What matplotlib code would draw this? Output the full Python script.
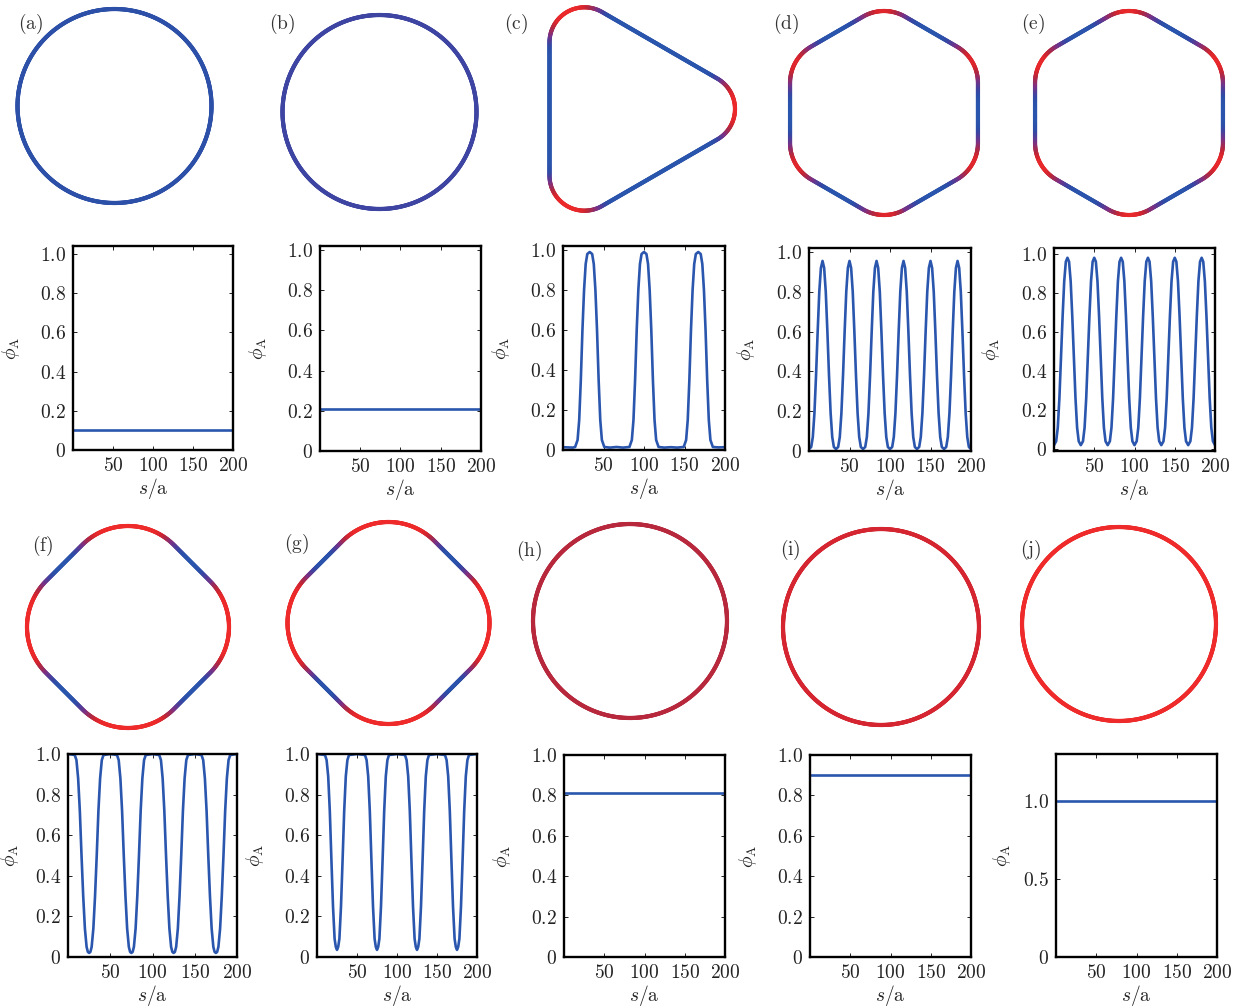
import numpy as np
import matplotlib
matplotlib.use("Agg")
import matplotlib.pyplot as plt
from matplotlib.collections import LineCollection
from matplotlib.colors import LinearSegmentedColormap

plt.rcParams['mathtext.fontset'] = 'cm'
plt.rcParams['font.family'] = 'serif'
plt.rcParams['font.serif'] = ['DejaVu Serif']

# ---------------------------------------------------------------------------
# phi_A along the contour length s/a for each panel
# ---------------------------------------------------------------------------
S_A = [0, 200]
PHI_A = [0.10, 0.10]

S_B = [0, 200]
PHI_B = [0.21, 0.21]

S_C = [0, 6, 12, 15, 18, 20, 22, 24, 26, 28, 30, 33, 36, 38, 40, 42, 44, 46, 48, 51,
       58, 66, 74,
       82, 85, 87, 89, 91, 93, 95, 97, 100, 103, 105, 107, 109, 111, 113, 115, 118,
       125, 133, 141,
       149, 152, 154, 156, 158, 160, 162, 164, 167, 170, 172, 174, 176, 178, 180, 182, 185,
       192, 200]
PHI_C = [0.014, 0.013, 0.012,
         0.015, 0.05, 0.15, 0.35, 0.60, 0.80, 0.93, 0.98, 0.99, 0.98, 0.93, 0.80, 0.60, 0.35, 0.15, 0.05, 0.015,
         0.012, 0.015, 0.012,
         0.015, 0.05, 0.15, 0.35, 0.60, 0.80, 0.93, 0.98, 0.99, 0.98, 0.93, 0.80, 0.60, 0.35, 0.15, 0.05, 0.015,
         0.012, 0.014, 0.012,
         0.015, 0.05, 0.15, 0.35, 0.60, 0.80, 0.93, 0.98, 0.99, 0.98, 0.93, 0.80, 0.60, 0.35, 0.15, 0.05, 0.015,
         0.013, 0.014]

S_D = [0.0, 2.7, 4.7, 6.7, 8.7, 10.7, 12.7, 14.7, 16.7, 18.7, 20.7, 22.7, 24.7, 26.7, 28.7, 30.7,
       33.3, 36.0, 38.0, 40.0, 42.0, 44.0, 46.0, 48.0, 50.0, 52.0, 54.0, 56.0, 58.0, 60.0, 62.0, 64.0,
       66.7, 69.4, 71.4, 73.4, 75.4, 77.4, 79.4, 81.4, 83.4, 85.4, 87.4, 89.4, 91.4, 93.4, 95.4, 97.4,
       100.0, 102.7, 104.7, 106.7, 108.7, 110.7, 112.7, 114.7, 116.7, 118.7, 120.7, 122.7, 124.7, 126.7, 128.7, 130.7,
       133.3, 136.0, 138.0, 140.0, 142.0, 144.0, 146.0, 148.0, 150.0, 152.0, 154.0, 156.0, 158.0, 160.0, 162.0, 164.0,
       166.7, 169.4, 171.4, 173.4, 175.4, 177.4, 179.4, 181.4, 183.4, 185.4, 187.4, 189.4, 191.4, 193.4, 195.4, 197.4,
       200.0]
PHI_D = [0.01, 0.02, 0.07, 0.19, 0.38, 0.60, 0.80, 0.92, 0.955, 0.92, 0.80, 0.60, 0.38, 0.19, 0.07, 0.02,
         0.01, 0.02, 0.07, 0.19, 0.38, 0.60, 0.80, 0.92, 0.955, 0.92, 0.80, 0.60, 0.38, 0.19, 0.07, 0.02,
         0.01, 0.02, 0.07, 0.19, 0.38, 0.60, 0.80, 0.92, 0.955, 0.92, 0.80, 0.60, 0.38, 0.19, 0.07, 0.02,
         0.01, 0.02, 0.07, 0.19, 0.38, 0.60, 0.80, 0.92, 0.955, 0.92, 0.80, 0.60, 0.38, 0.19, 0.07, 0.02,
         0.01, 0.02, 0.07, 0.19, 0.38, 0.60, 0.80, 0.92, 0.955, 0.92, 0.80, 0.60, 0.38, 0.19, 0.07, 0.02,
         0.01, 0.02, 0.07, 0.19, 0.38, 0.60, 0.80, 0.92, 0.955, 0.92, 0.80, 0.60, 0.38, 0.19, 0.07, 0.02,
         0.01]

S_E = list(S_D)
PHI_E = [0.02, 0.04, 0.11, 0.26, 0.47, 0.68, 0.86, 0.96, 0.98, 0.96, 0.86, 0.68, 0.47, 0.26, 0.11, 0.04,
         0.02, 0.04, 0.11, 0.26, 0.47, 0.68, 0.86, 0.96, 0.98, 0.96, 0.86, 0.68, 0.47, 0.26, 0.11, 0.04,
         0.02, 0.04, 0.11, 0.26, 0.47, 0.68, 0.86, 0.96, 0.98, 0.96, 0.86, 0.68, 0.47, 0.26, 0.11, 0.04,
         0.02, 0.04, 0.11, 0.26, 0.47, 0.68, 0.86, 0.96, 0.98, 0.96, 0.86, 0.68, 0.47, 0.26, 0.11, 0.04,
         0.02, 0.04, 0.11, 0.26, 0.47, 0.68, 0.86, 0.96, 0.98, 0.96, 0.86, 0.68, 0.47, 0.26, 0.11, 0.04,
         0.02, 0.04, 0.11, 0.26, 0.47, 0.68, 0.86, 0.96, 0.98, 0.96, 0.86, 0.68, 0.47, 0.26, 0.11, 0.04,
         0.02]

S_F = [0,
       8, 10, 12, 14, 16, 18, 20, 22, 23.5, 25, 26.5, 28, 30, 32, 34, 36, 38, 40, 42,
       50,
       58, 60, 62, 64, 66, 68, 70, 72, 73.5, 75, 76.5, 78, 80, 82, 84, 86, 88, 90, 92,
       100,
       108, 110, 112, 114, 116, 118, 120, 122, 123.5, 125, 126.5, 128, 130, 132, 134, 136, 138, 140, 142,
       150,
       158, 160, 162, 164, 166, 168, 170, 172, 173.5, 175, 176.5, 178, 180, 182, 184, 186, 188, 190, 192,
       200]
PHI_F = [1.0,
         0.995, 0.97, 0.88, 0.72, 0.50, 0.30, 0.14, 0.05, 0.025, 0.02, 0.025, 0.05, 0.14, 0.30, 0.50, 0.72, 0.88, 0.97, 0.995,
         1.0,
         0.995, 0.97, 0.88, 0.72, 0.50, 0.30, 0.14, 0.05, 0.025, 0.02, 0.025, 0.05, 0.14, 0.30, 0.50, 0.72, 0.88, 0.97, 0.995,
         1.0,
         0.995, 0.97, 0.88, 0.72, 0.50, 0.30, 0.14, 0.05, 0.025, 0.02, 0.025, 0.05, 0.14, 0.30, 0.50, 0.72, 0.88, 0.97, 0.995,
         1.0,
         0.995, 0.97, 0.88, 0.72, 0.50, 0.30, 0.14, 0.05, 0.025, 0.02, 0.025, 0.05, 0.14, 0.30, 0.50, 0.72, 0.88, 0.97, 0.995,
         1.0]

S_G = [0,
       10, 12, 14, 16, 18, 20, 22, 23.5, 25, 26.5, 28, 30, 32, 34, 36, 38, 40,
       50,
       60, 62, 64, 66, 68, 70, 72, 73.5, 75, 76.5, 78, 80, 82, 84, 86, 88, 90,
       100,
       110, 112, 114, 116, 118, 120, 122, 123.5, 125, 126.5, 128, 130, 132, 134, 136, 138, 140,
       150,
       160, 162, 164, 166, 168, 170, 172, 173.5, 175, 176.5, 178, 180, 182, 184, 186, 188, 190,
       200]
PHI_G = [1.0,
         0.995, 0.97, 0.89, 0.72, 0.48, 0.25, 0.09, 0.05, 0.035, 0.05, 0.09, 0.25, 0.48, 0.72, 0.89, 0.97, 0.995,
         1.0,
         0.995, 0.97, 0.89, 0.72, 0.48, 0.25, 0.09, 0.05, 0.035, 0.05, 0.09, 0.25, 0.48, 0.72, 0.89, 0.97, 0.995,
         1.0,
         0.995, 0.97, 0.89, 0.72, 0.48, 0.25, 0.09, 0.05, 0.035, 0.05, 0.09, 0.25, 0.48, 0.72, 0.89, 0.97, 0.995,
         1.0,
         0.995, 0.97, 0.89, 0.72, 0.48, 0.25, 0.09, 0.05, 0.035, 0.05, 0.09, 0.25, 0.48, 0.72, 0.89, 0.97, 0.995,
         1.0]

S_H = [0, 200]
PHI_H = [0.81, 0.81]

S_I = [0, 200]
PHI_I = [0.90, 0.90]

S_J = [0, 200]
PHI_J = [1.0, 1.0]

PANEL_LABELS = ['(a)', '(b)', '(c)', '(d)', '(e)', '(f)', '(g)', '(h)', '(i)', '(j)']
X_TICKS = [50, 100, 150, 200]
X_TICK_LABELS = ['50', '100', '150', '200']
Y_TICKS = [0, 0.2, 0.4, 0.6, 0.8, 1.0]
Y_TICK_LABELS = ['0', '0.2', '0.4', '0.6', '0.8', '1.0']
Y_TICKS_J = [0, 0.5, 1.0]
Y_TICK_LABELS_J = ['0', '0.5', '1.0']

SERIES = [(S_A, PHI_A), (S_B, PHI_B), (S_C, PHI_C), (S_D, PHI_D), (S_E, PHI_E),
          (S_F, PHI_F), (S_G, PHI_G), (S_H, PHI_H), (S_I, PHI_I), (S_J, PHI_J)]

# ---------------------------------------------------------------------------
# layout (pixel units of the 1246 x 1006 canvas)
# ---------------------------------------------------------------------------
W, H = 1246, 1006
PLOT_BOXES = [(73, 246, 233, 450), (320, 246, 481, 451), (563, 246, 725, 450),
              (809, 248, 971, 451), (1054, 248, 1215, 451),
              (68, 754, 237, 957), (317, 754, 477, 957), (564, 755, 725, 957),
              (810, 755, 971, 957), (1056, 754, 1217, 957)]
Y_LIMS = [(0, 1.04), (0, 1.02), (0, 1.02), (0, 1.02), (-0.01, 1.03),
          (0, 1.0), (0, 1.0), (0, 1.0), (0, 1.0), (0, 1.3)]
# distance from the left spine to the right edge of the rotated y label
YLABEL_OFFSET = [51, 51, 51, 52, 52, 47, 51, 51, 51, 43]

# contour geometry: centre x, centre y, corners, corner-centre radius, corner radius, rotation
SHAPES = [(114.5, 106, 1, 0, 97, 0.0),
          (379.5, 112, 1, 0, 97, 0.0),
          (623, 109, 3, 77, 35, 0.0),
          (884, 113, 6, 60, 42, np.pi / 2),
          (1129, 113, 6, 60, 42, np.pi / 2),
          (128, 627, 4, 36, 65, 0.0),
          (388.5, 623, 4, 36, 65, 0.0),
          (630, 621, 1, 0, 97, 0.0),
          (881, 627, 1, 0, 98, 0.0),
          (1119, 624, 1, 0, 97, 0.0)]
LABEL_POS = [(31, 24), (282, 24), (516, 24), (786, 24), (1033, 24),
             (43, 546), (297, 544), (529, 551), (790, 550), (1031, 550)]

LINE_BLUE = '#2a56ae'
PHI_CMAP = LinearSegmentedColormap.from_list(
    'phi', [(0.0, '#2a56ae'), (0.1, '#2c4fa8'), (0.2, '#3b45a2'), (0.5, '#7a3186'),
            (0.8, '#b4283f'), (0.9, '#d32530'), (1.0, '#ee2a2a')])

FS = 14


def px_box(l, t, r, b):
    return [l / W, 1 - b / H, (r - l) / W, (b - t) / H]


def rounded_contour(n, R, rho, theta0, npts=700):
    """Closed outline made of n circular corners joined by straight edges."""
    pieces = []
    for k in range(n):
        th = theta0 + 2 * np.pi * k / n
        a = np.linspace(th - np.pi / n, th + np.pi / n, 160)
        pieces.append(np.c_[R * np.cos(th) + rho * np.cos(a),
                            R * np.sin(th) + rho * np.sin(a)])
    pts = np.vstack(pieces + [pieces[0][:1]])
    step = np.hypot(*np.diff(pts, axis=0).T)
    pts = pts[np.r_[True, step > 1e-9]]
    cum = np.r_[0, np.cumsum(np.hypot(*np.diff(pts, axis=0).T))]
    t = np.linspace(0, cum[-1], npts)
    x = np.interp(t, cum, pts[:, 0])
    y = np.interp(t, cum, pts[:, 1])
    return x, y, t, cum[-1], rho * np.pi / n


def peak_centre(s, phi):
    s = np.asarray(s, float)
    phi = np.asarray(phi, float)
    if np.ptp(phi) < 0.1:
        return 0.0
    hi = phi > 0.5
    rise = np.where(~hi[:-1] & hi[1:])[0]
    fall = np.where(hi[:-1] & ~hi[1:])[0]
    r = s[rise[0] + 1]
    f = s[fall[fall > rise[0]][0]]
    return 0.5 * (r + f)


fig = plt.figure(figsize=(W / 100, H / 100), dpi=100)

for i, ((s, phi), box, ylim, yoff) in enumerate(zip(SERIES, PLOT_BOXES, Y_LIMS, YLABEL_OFFSET)):
    ax = fig.add_axes(px_box(*box))
    ax.plot(s, phi, color=LINE_BLUE, lw=1.9, solid_capstyle='butt')
    ax.set_xlim(0, 200)
    ax.set_ylim(*ylim)
    ax.set_xticks(X_TICKS)
    ax.set_xticklabels(['$%s$' % t for t in X_TICK_LABELS])
    if i == 9:
        ax.set_yticks(Y_TICKS_J)
        ax.set_yticklabels(['$%s$' % t for t in Y_TICK_LABELS_J])
    else:
        ax.set_yticks(Y_TICKS)
        ax.set_yticklabels(['$%s$' % t for t in Y_TICK_LABELS])
    ax.tick_params(direction='in', length=3, width=0.7, top=True, right=True,
                   labelsize=FS, pad=5, colors='#222222')
    for sp in ax.spines.values():
        sp.set_linewidth(1.7)
        sp.set_color('black')
    ax.set_xlabel(r'$s/\mathrm{a}$', fontsize=FS, labelpad=1, color='#222222')
    ax.set_ylabel(r'$\phi_{\mathrm{A}}$', fontsize=FS, color='#222222')
    ax.yaxis.set_label_coords(-yoff / (box[2] - box[0]), 0.5)

    # contour coloured by phi_A along its length
    cx, cy, n, R, rho, th0 = SHAPES[i]
    sax = fig.add_axes(px_box(cx - 120, cy - 115, cx + 120, cy + 115))
    sax.set_xlim(-120, 120)
    sax.set_ylim(115, -115)
    sax.axis('off')
    x, y, t, total, half = rounded_contour(n, R, rho, th0)
    s0 = peak_centre(s, phi)
    s_along = (s0 + (t - half) / total * 200.0) % 200.0
    phi_along = np.interp(s_along, np.asarray(s, float), np.asarray(phi, float), period=200.0)
    phi_mid = 0.5 * (phi_along[:-1] + phi_along[1:])
    segs = np.stack([np.c_[x[:-1], y[:-1]], np.c_[x[1:], y[1:]]], axis=1)
    lc = LineCollection(segs, colors=PHI_CMAP(phi_mid), linewidths=3.0,
                        capstyle='round', joinstyle='round', snap=False)
    sax.add_collection(lc)

    lx, ly = LABEL_POS[i]
    fig.text(lx / W, 1 - ly / H, r'$\mathrm{%s}$' % PANEL_LABELS[i], fontsize=FS,
             ha='center', va='center', color='#333333')

fig.savefig('out.png', dpi=100)
